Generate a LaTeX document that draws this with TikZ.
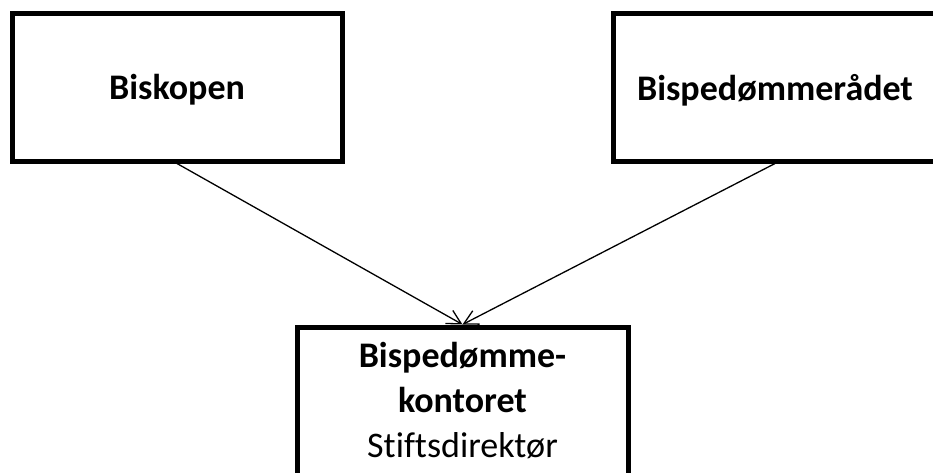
\documentclass[tikz,border=0pt]{standalone}
\usepackage{fontspec}
\setmainfont[Ligatures=NoCommon]{Carlito}
\usetikzlibrary{arrows.meta}

\begin{document}
\begin{tikzpicture}[
        x=1pt, y=-1pt,
        box/.style={draw, line width=5pt, minimum width=330pt, minimum height=148pt, inner sep=0pt, align=center, text depth=0pt, font=\fontsize{36}{45}\selectfont\bfseries},
        arrow/.style={-{Straight Barb[length=14pt, width=15pt]}, line width=1.3pt}
    ]
        \clip (0,0) rectangle (933,472);

        % Top row
        \node[box] (Bisk) at (177,87) {Biskopen};
        \node[box, minimum width=324pt] (Raad) at (775,87) {Bispedømmerådet};

        % Office box
        \node[box, minimum width=331pt, minimum height=160pt, text depth=15pt] (Kontor) at (462.5,407) {Bispedømme-\\kontoret\\{\mdseries Stiftsdirektør}};

        % Arrows
        \draw[arrow] (Bisk.south) -- (Kontor.north);
        \draw[arrow] (Raad.south) -- (Kontor.north);

    \end{tikzpicture}
\end{document}
